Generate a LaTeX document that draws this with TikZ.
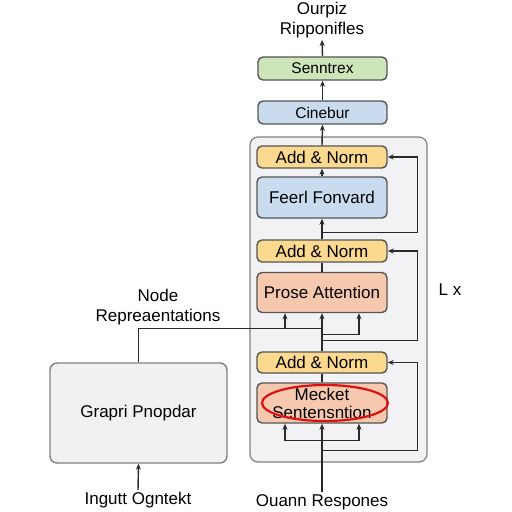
\documentclass[tikz,border=0pt]{standalone}
\usepackage{fontspec}
\setmainfont{Liberation Sans}
\usetikzlibrary{arrows.meta,calc}
\definecolor{NormYellow}{HTML}{FBD98F}
\definecolor{FeedBlue}{HTML}{C9DCEF}
\definecolor{AttnSalmon}{HTML}{F6C9AE}
\definecolor{OutGreen}{HTML}{CDE5B8}
\definecolor{LinBlue}{HTML}{C9DBED}
\definecolor{StackGray}{HTML}{F2F2F4}
\definecolor{EncGray}{HTML}{F1F1F1}
\definecolor{BoxGray}{HTML}{555555}
\definecolor{LineGray}{HTML}{2A2A2A}
\definecolor{RingRed}{HTML}{DD1111}

\begin{document}
\begin{tikzpicture}[x=1pt,y=-1pt,
    blk/.style={draw=BoxGray,line width=1.4pt,rounded corners=5pt,align=center,inner sep=0pt,font=\fontsize{17}{18}\selectfont},
    norm/.style={blk,fill=NormYellow,minimum width=130pt,minimum height=22pt},
    lbl/.style={align=center,inner sep=2pt,font=\fontsize{17}{19.5}\selectfont},
    arr/.style={draw=LineGray,line width=1.4pt,-{Stealth[length=6pt,width=5pt]}},
    lin/.style={draw=LineGray,line width=1.4pt}]
    \useasboundingbox (0,0) rectangle (512,512);

    \node[draw=gray,fill=StackGray,line width=1.2pt,rounded corners=8pt,minimum width=177pt,minimum height=325pt] (stack) at (338.5,299.5) {};

    \node[lbl] (outtxt) at (322,20) {Ourpiz\\Ripponifles};
    \node[blk,fill=OutGreen,minimum width=129pt,minimum height=23pt,font=\fontsize{15.5}{18}\selectfont] (sent) at (322.5,68.5) {Senntrex};
    \node[blk,fill=LinBlue,minimum width=129pt,minimum height=23pt,font=\fontsize{15.5}{18}\selectfont] (cine) at (322.5,112.5) {Cinebur};
    \node[norm] (an1) at (322,157) {Add \& Norm};
    \node[blk,fill=FeedBlue,minimum width=130pt,minimum height=41pt] (ff) at (322,197.5) {Feerl Fonvard};
    \node[norm] (an2) at (322,251) {Add \& Norm};
    \node[blk,fill=AttnSalmon,minimum width=130pt,minimum height=40pt] (pa) at (322,292.5) {Prose Attention};
    \node[norm,minimum height=21pt] (an3) at (322,362.5) {Add \& Norm};
    \node[blk,fill=AttnSalmon,minimum width=130pt,minimum height=40pt] (ms) at (322,403) {Mecket\\Sentensntion};
    \node[lbl] (restxt) at (322,502) {Ouann Respones};
    \node[lbl] (loop) at (450,290) {L x};

    \node[blk,draw=gray,fill=EncGray,rounded corners=7pt,minimum width=177pt,minimum height=100pt] (genc) at (138.5,413) {Grapri Pnopdar};
    \node[lbl] (nodetxt) at (158,307) {Node\\Repreaentations};
    \node[lbl] (intxt) at (138,500) {Ingutt Ogntekt};

    \draw[RingRed,line width=2.2pt] ($(ms.center)+(3,0)$) ellipse [x radius=63pt,y radius=18pt];

    \draw[arr] (sent.north) -- (outtxt.south);
    \draw[arr] (cine.north) -- (sent.south);
    \draw[arr] (an1.north) -- (cine.south);
    \draw[arr] (ff.north) -- (an1.south);
    \draw[arr] (an2.north) -- (ff.south);
    \draw[lin] (pa.north) -- (an2.south);
    \draw[arr] (an3.north) -- (pa.south);
    \draw[lin] (ms.north) -- (an3.south);
    \draw[arr] (restxt.north) -- (ms.south);
    \draw[arr] (intxt.north) -- (genc.south);

    \coordinate (r1) at ($(an2.north)+(0,-7)$);
    \coordinate (r2) at ($(an3.north)+(0,-11)$);
    \coordinate (r3) at ($(ms.south)+(0,27)$);
    \draw[arr] (r1) -| ($(an1.east)+(30,0)$) -- (an1.east);
    \draw[arr] (r2) -| ($(an2.east)+(30,0)$) -- (an2.east);
    \draw[arr] (r3) -| ($(an3.east)+(30,0)$) -- (an3.east);

    \coordinate (pk) at ($(pa.south)+(0,15)$);
    \coordinate (pl) at ($(pa.south)+(-37,15)$);
    \coordinate (pj) at ($(pa.south)+(0,21)$);
    \draw[lin] (genc.north) |- (pk);
    \draw[arr] (pl) -- (pl |- pa.south);
    \draw[arr] (pj) -| ($(pa.south)+(37,0)$);

    \coordinate (ml) at ($(ms.south)+(-37,17)$);
    \coordinate (mr) at ($(ms.south)+(37,17)$);
    \draw[lin] (ml) -- (mr);
    \draw[arr] (ml) -- (ml |- ms.south);
    \draw[arr] (mr) -- (mr |- ms.south);
\end{tikzpicture}
\end{document}
